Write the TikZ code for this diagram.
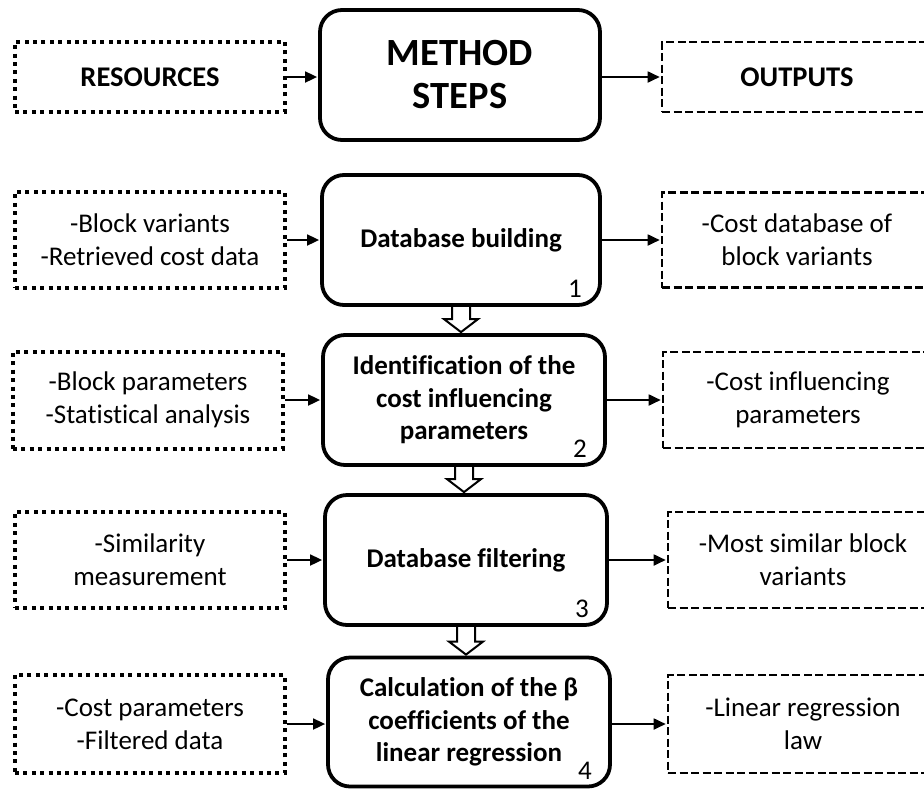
\documentclass[tikz,border=0pt]{standalone}
\usepackage{fontspec}
\setmainfont{Carlito}[Ligatures=NoCommon]
\usetikzlibrary{arrows.meta,calc}

\begin{document}
\begin{tikzpicture}[x=1pt,y=-1pt,
  stepbox/.style={draw, line width=3.8pt, rounded corners=22pt, align=center,
    inner sep=0pt, font=\fontsize{27}{32.5}\selectfont\bfseries},
  headbox/.style={stepbox, font=\fontsize{38.5}{43}\selectfont\bfseries},
  resbox/.style={draw, line width=4pt, dash pattern=on 4pt off 4.4pt,
    minimum width=270pt, align=center, inner sep=0pt,
    font=\fontsize{27}{33}\selectfont},
  outbox/.style={draw, line width=2.6pt, dash pattern=on 8pt off 3.5pt,
    minimum width=270pt, align=center, inner sep=0pt,
    font=\fontsize{27}{33}\selectfont},
  titletext/.style={font=\fontsize{28.5}{33}\selectfont\bfseries},
  flow/.style={line width=1.8pt, -{Triangle[length=12pt,width=11pt]}, shorten >=1pt},
  hollowarr/.style={line width=2pt, line join=miter},
  stepnum/.style={font=\fontsize{27}{30}\selectfont, anchor=base}
]
\path[use as bounding box, clip] (0,0) rectangle (924,788);

% header row
\node[headbox, minimum width=280pt, minimum height=130pt] (ms) at (460,75) {METHOD\\STEPS};
\node[resbox, titletext, minimum height=70pt] (r0) at (150,77) {RESOURCES};
\node[outbox, titletext, minimum height=70pt] (o0) at (797,77) {OUTPUTS};

% method steps
\node[stepbox, minimum width=278pt, minimum height=130pt] (s1) at (461,240) {Database building};
\node[stepbox, minimum width=282pt, minimum height=130pt] (s2) at (464,400) {Identification of the\\cost influencing\\parameters};
\node[stepbox, minimum width=282pt, minimum height=130pt] (s3) at (466,560) {Database filtering};
\node[stepbox, minimum width=282pt, minimum height=129pt] (s4) at (469,722) {Calculation of the β\\coefficients of the\\linear regression};

% step numbers
\node[stepnum] (n1) at ($(s1.south east)+(-27,-9)$) {1};
\node[stepnum] (n2) at ($(s2.south east)+(-27,-9)$) {2};
\node[stepnum] (n3) at ($(s3.south east)+(-27,-9)$) {3};
\node[stepnum] (n4) at ($(s4.south east)+(-27,-9)$) {4};

% resources
\node[resbox, minimum height=96pt] (r1) at (150,240) {-Block variants\\-Retrieved cost data};
\node[resbox, minimum height=97pt] (r2) at (148,400) {-Block parameters\\-Statistical analysis};
\node[resbox, minimum height=96pt] (r3) at (150,560) {-Similarity\\measurement};
\node[resbox, minimum height=98pt] (r4) at (150,724) {-Cost parameters\\-Filtered data};

% outputs
\node[outbox, minimum height=95pt] (o1) at (797,240) {-Cost database of\\block variants};
\node[outbox, minimum height=96pt] (o2) at (798,400) {-Cost influencing\\parameters};
\node[outbox, minimum height=96pt] (o3) at (803,560) {-Most similar block\\variants};
\node[outbox, minimum height=98pt] (o4) at (803,724) {-Linear regression\\law};

% resource and output connectors
\draw[flow] (r0.east) -- (r0.east -| ms.west);
\draw[flow] (ms.east |- o0.west) -- (o0.west);
\draw[flow] (r1.east) -- (r1.east -| s1.west);
\draw[flow] (s1.east |- o1.west) -- (o1.west);
\draw[flow] (r2.east) -- (r2.east -| s2.west);
\draw[flow] (s2.east |- o2.west) -- (o2.west);
\draw[flow] (r3.east) -- (r3.east -| s3.west);
\draw[flow] (s3.east |- o3.west) -- (o3.west);
\draw[flow] (r4.east) -- (r4.east -| s4.west);
\draw[flow] (s4.east |- o4.west) -- (o4.west);

% hollow arrows between consecutive steps
\foreach \a/\b in {s1/s2, s2/s3, s3/s4}{
  \draw[hollowarr] let \p1=(\a.south), \p2=(\b.north) in
    (\x1-9pt,\y1) -- (\x1-9pt,\y2+14pt) -- (\x1-17pt,\y2+14pt) --
    (\x1,\y2+1pt) -- (\x1+17pt,\y2+14pt) -- (\x1+9pt,\y2+14pt) -- (\x1+9pt,\y1);
}
\end{tikzpicture}
\end{document}
